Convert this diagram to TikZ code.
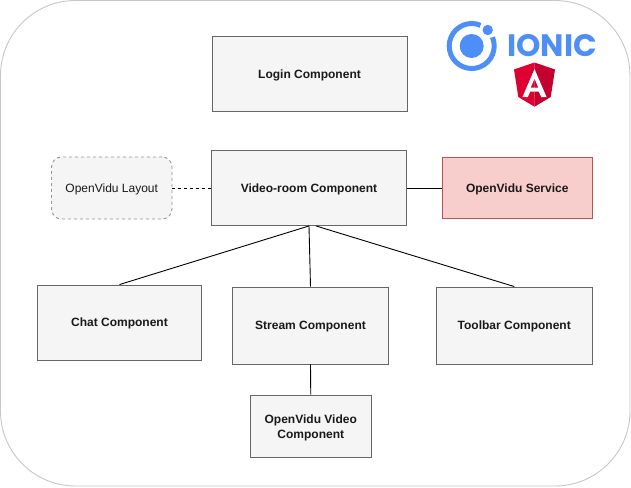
\documentclass[tikz,border=0pt]{standalone}
\usepackage{fontspec}
\setmainfont{Liberation Sans}
\newfontfamily\logofont{Poppins}
\definecolor{boxfill}{HTML}{F5F5F5}
\definecolor{boxline}{HTML}{666666}
\definecolor{srvfill}{HTML}{F8CECC}
\definecolor{srvline}{HTML}{B85450}
\definecolor{ionicblue}{HTML}{4E8EF7}
\definecolor{ngred}{HTML}{DD0031}
\definecolor{ngdark}{HTML}{C3002F}
\usetikzlibrary{calc}

\begin{document}
\begin{tikzpicture}[
  x=1pt,y=-1pt,
  comp/.style={draw=boxline,fill=boxfill,inner sep=0pt,align=center,text=black!90,line width=0.9pt,
    text height=10pt,text depth=2pt,font=\fontsize{12}{14.4}\selectfont\bfseries},
  link/.style={draw=black,line width=0.9pt}
]
  \useasboundingbox (0,0) rectangle (631,487);
  \node[draw=black!22,fill=white,rounded corners=75pt,line width=0.9pt,inner sep=0pt,
    minimum width=629.5pt,minimum height=485.5pt] (frame) at (315.25,243.25) {};
  % Components
  \node[comp,minimum width=195pt,minimum height=75pt] (login) at (309.5,74) {Login Component};
  \node[comp,minimum width=194.5pt,minimum height=75pt] (room) at (309,188) {Video-room Component};
  \node[comp,draw=srvline,fill=srvfill,minimum width=150.5pt,minimum height=60.5pt] (service) at (517.25,188) {OpenVidu Service};
  \node[comp,dashed,draw=boxline!70,font=\fontsize{12}{14.4}\selectfont,rounded corners=10pt,minimum width=120.5pt,minimum height=62pt] (layout) at (111.75,188) {OpenVidu Layout};
  \node[comp,minimum width=163.5pt,minimum height=75pt] (chat) at (119.5,322.5) {Chat Component};
  \node[comp,minimum width=155.5pt,minimum height=77pt] (stream) at (310.5,325.5) {Stream Component};
  \node[comp,minimum width=155.5pt,minimum height=77pt] (toolbar) at (514.25,325.5) {Toolbar Component};
  \node[comp,text height=26pt,minimum width=121pt,minimum height=62.5pt] (video) at (310.75,426.25) {OpenVidu Video\\Component};
  % Links
  \coordinate (roomright) at ($(room.south)+(7,0)$);
  \draw[link] (room.south) -- (chat.north);
  \draw[link] (room.south) -- (stream.north);
  \draw[link] (roomright) -- (toolbar.north);
  \draw[link] (stream.south) -- (video.north);
  \draw[link] (room.east) -- (service.west);
  \draw[link,dashed] (layout.east) -- (room.west);
  % Ionic logo
  \draw[ionicblue,line width=5pt] (480.5,25.3) arc[start angle=67,end angle=383,radius=22.5pt];
  \fill[ionicblue] (471.7,46) circle[radius=12pt];
  \fill[ionicblue] (487.7,30) circle[radius=5.2pt];
  \node[ionicblue,inner sep=0pt,font=\logofont\bfseries\fontsize{31}{31}\selectfont] (ionic) at (552,46) {IONIC};
  % Angular logo
  \fill[ngred] (534.5,62.5) -- (514,69.5) -- (518.3,97) -- (534.5,106.7) -- cycle;
  \fill[ngdark] (534.5,62.5) -- (555,69.5) -- (550.7,97) -- (534.5,106.7) -- cycle;
  \fill[white,even odd rule] (534.5,69) -- (522.5,97) -- (527.8,97) -- (530.3,91.5) -- (538.7,91.5) -- (541.2,97) -- (546.5,97) -- cycle
    (534.5,78.5) -- (538.2,87.5) -- (530.8,87.5) -- cycle;
\end{tikzpicture}
\end{document}
